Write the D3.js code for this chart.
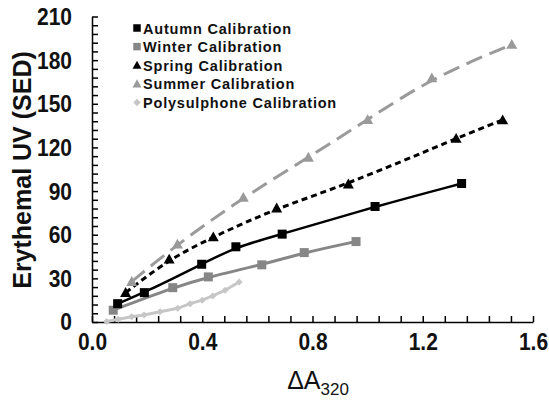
<!DOCTYPE html>
<html>
<head>
<meta charset="utf-8">
<script src="https://cdn.jsdelivr.net/npm/d3@7"></script>
<style>
  body { margin: 0; background: #fff; }
  svg { display: block; font-family: "Liberation Sans", Arial, sans-serif; }
</style>
</head>
<body>
<div id="chart"></div>
<script>
(function () {
    // values
    var autumnX = [0.093, 0.19, 0.398, 0.522, 0.69, 1.027, 1.341];
    var autumnY = [12.6, 20.2, 39.7, 51.7, 60.4, 79.4, 95.2];
    var winterX = [0.077, 0.293, 0.422, 0.616, 0.770, 0.958];
    var winterY = [8.1, 23.6, 31.0, 39.3, 47.7, 55.3];
    var springX = [0.122, 0.28, 0.44, 0.67, 0.93, 1.321, 1.49];
    var springY = [20.2, 43.2, 58.5, 78.3, 94.8, 126.2, 138.9];
    var summerX = [0.144, 0.31, 0.549, 0.785, 1.0, 1.233, 1.523];
    var summerY = [27.8, 53.5, 85.6, 113.2, 139.1, 167.8, 190.8];
    var polyX = [0.053, 0.095, 0.144, 0.189, 0.247, 0.311, 0.356, 0.40, 0.438, 0.483, 0.534];
    var polyY = [0.3, 1.9, 3.6, 4.8, 7.1, 9.4, 12.6, 15.0, 17.9, 21.8, 27.5];

    var seriesNames = ["Autumn Calibration", "Winter Calibration", "Spring Calibration",
        "Summer Calibration", "Polysulphone Calibration"];

    var yTicks = d3.range(0, 36).map(function (i) { return i * 6; });
    var xTicks = d3.range(0, 21).map(function (i) { return i * 0.08; });

    var width = 549, height = 400;

    var x = d3.scaleLinear().domain([0, 1.6]).range([92, 533]);
    var y = d3.scaleLinear().domain([0, 210]).range([322, 16.5]);

    var svg = d3.select("#chart").append("svg")
        .attr("width", width).attr("height", height);

    svg.append("rect").attr("width", width).attr("height", height).attr("fill", "#fff");

    function zip(xs, ys) {
        return xs.map(function (v, i) { return [v, ys[i]]; });
    }

    var series = [
        { name: seriesNames[4], pts: zip(polyX, polyY), color: "#c6c6c6", dash: null, width: 3, curve: d3.curveLinear, shape: "diamond", size: 7 },
        { name: seriesNames[1], pts: zip(winterX, winterY), color: "#868686", dash: null, width: 3, curve: d3.curveBasis, shape: "square", size: 9 },
        { name: seriesNames[0], pts: zip(autumnX, autumnY), color: "#000", dash: null, width: 2.5, curve: d3.curveBasis, shape: "square", size: 9 },
        { name: seriesNames[2], pts: zip(springX, springY), color: "#000", dash: "6,4", width: 3, curve: d3.curveBasis, shape: "triangle", size: 11 },
        { name: seriesNames[3], pts: zip(summerX, summerY), color: "#9a9a9a", dash: "17,8", width: 3, curve: d3.curveBasis, shape: "triangle", size: 11 }
    ];

    function symbolPath(shape, size) {
        if (shape === "square") {
            var h = size / 2;
            return "M" + (-h) + "," + (-h) + "h" + size + "v" + size + "h" + (-size) + "Z";
        }
        if (shape === "triangle") {
            var s = size / 2;
            return "M0," + (-s) + "L" + s + "," + (s * 0.8) + "L" + (-s) + "," + (s * 0.8) + "Z";
        }
        var d = size / 2;
        return "M0," + (-d) + "L" + d + ",0L0," + d + "L" + (-d) + ",0Z";
    }

    // axes
    var yAxis = d3.axisLeft(y)
        .tickValues(yTicks)
        .tickSize(-6)
        .tickSizeOuter(0)
        .tickPadding(20)
        .tickFormat(function (d) { return d % 30 === 0 ? d : ""; });

    var xAxis = d3.axisBottom(x)
        .tickValues(xTicks)
        .tickSize(-6)
        .tickSizeOuter(0)
        .tickPadding(9)
        .tickFormat(function (d, i) { return i % 5 === 0 ? d3.format(".1f")(d) : ""; });

    var gy = svg.append("g").attr("transform", "translate(92,0)").call(yAxis);
    var gx = svg.append("g").attr("transform", "translate(0,322)").call(xAxis);

    [gx, gy].forEach(function (g) {
        g.selectAll("path, line").attr("stroke", "#000").attr("stroke-width", 1.5);
        g.selectAll("text")
            .attr("fill", "#111")
            .attr("transform", "scale(1,1.18)")
            .style("font-size", "21px")
            .style("font-weight", "bold")
            .style("font-family", "'Liberation Sans', Arial, sans-serif");
    });

    // trend lines
    series.forEach(function (s) {
        var line = d3.line()
            .x(function (d) { return x(d[0]); })
            .y(function (d) { return y(d[1]); })
            .curve(s.curve);
        svg.append("path")
            .datum(s.pts)
            .attr("d", line)
            .attr("fill", "none")
            .attr("stroke", s.color)
            .attr("stroke-width", s.width)
            .attr("stroke-dasharray", s.dash);
    });

    // markers
    series.forEach(function (s) {
        svg.append("g").selectAll("path")
            .data(s.pts)
            .join("path")
            .attr("transform", function (d) { return "translate(" + x(d[0]) + "," + y(d[1]) + ")"; })
            .attr("d", symbolPath(s.shape, s.size))
            .attr("fill", s.color);
    });

    // legend
    var legendOrder = [2, 1, 3, 4, 0];
    var legend = svg.append("g").attr("transform", "translate(137,28)");
    legendOrder.forEach(function (idx, i) {
        var s = series[idx];
        var row = legend.append("g").attr("transform", "translate(0," + (i * 18.6) + ")");
        row.append("path")
            .attr("d", symbolPath(s.shape, s.shape === "triangle" ? 9 : 7.5))
            .attr("fill", s.color);
        row.append("text")
            .attr("x", 6)
            .attr("y", 5.5)
            .text(s.name)
            .style("font-size", "14.5px")
            .style("font-weight", "bold")
            .style("letter-spacing", "0.8px")
            .attr("fill", "#111");
    });

    // axis titles
    svg.append("text")
        .attr("transform", "translate(31,170) rotate(-90)")
        .attr("text-anchor", "middle")
        .style("font-size", "25px")
        .style("font-weight", "bold")
        .attr("fill", "#111")
        .text("Erythemal UV (SED)");

    var xt = svg.append("text")
        .attr("x", 318)
        .attr("y", 389)
        .attr("text-anchor", "middle")
        .style("font-size", "25px")
        .attr("fill", "#111");
    xt.append("tspan").text("ΔA");
    xt.append("tspan").attr("dy", 6).style("font-size", "17px").text("320");
})();
</script>
</body>
</html>
